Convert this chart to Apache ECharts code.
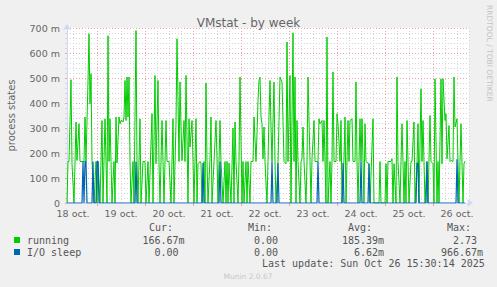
<!DOCTYPE html>
<html><head><meta charset="utf-8">
<script src="https://cdn.jsdelivr.net/npm/echarts@6.0.0/dist/echarts.min.js"></script>
<style>html,body{margin:0;padding:0;background:#f0f0f0;}#c{width:497px;height:287px;}</style>
</head><body><div id="c"></div>
<script>
// time unit: half-hour slots since 18 oct 00:00
const slotMin = 18, slotMax = 420;
const dayLabels = ['18 oct.','19 oct.','20 oct.','21 oct.','22 oct.','23 oct.','24 oct.','25 oct.','26 oct.'];
const yTicks = [0,100,200,300,400,500,600,700];

const runT = [18,19,20,22,23,25,27,28,30,31,33,35,36,37,39,40,41,42,43,45,47,48,49,51,53,54,56,57,58,59,60,61,62,63,65,66,67,68,70,71,72,73,74,75,76,77,78,79,80,81,82,84,85,87,88,89,91,92,94,96,97,99,100,103,104,106,107,109,110,111,113,114,115,117,118,120,122,124,125,127,128,130,131,132,133,135,136,137,139,140,141,143,144,145,147,148,149,151,152,153,155,156,157,158,159,161,162,163,165,167,168,169,171,172,174,176,177,178,179,180,182,184,185,186,187,189,190,191,193,194,195,197,198,199,201,202,204,205,207,208,209,210,211,212,213,214,215,216,218,219,220,221,222,223,225,226,227,229,230,231,233,234,235,237,238,239,241,242,244,245,246,247,248,249,251,252,253,254,255,257,258,259,261,262,263,265,266,268,269,270,271,273,274,275,277,278,279,281,282,283,284,285,287,288,289,291,292,293,295,296,297,299,300,301,303,304,306,307,308,309,311,312,313,315,316,317,319,320,321,324,325,330,331,332,336,337,338,339,342,343,344,345,347,348,349,351,352,353,355,356,357,358,359,360,362,363,365,366,368,369,370,372,373,374,376,378,379,381,382,384,385,386,388,389,390,392,393,394,396,397,398,400,401,402,404,405,406,408,409,410,411,412,414,415,416];
const runV = [0,166,166,493,157,0,324,170,317,166,166,166,344,166,490,677,397,517,170,0,166,0,166,0,330,0,337,166,0,669,166,337,166,0,166,0,344,160,344,317,330,330,324,344,490,330,504,344,504,166,0,166,0,690,166,0,337,0,166,166,0,166,0,357,0,510,157,490,160,0,330,166,0,330,166,166,0,337,0,317,657,166,484,304,170,330,166,510,0,337,224,330,166,0,337,0,157,166,160,0,166,0,480,166,0,177,344,0,166,330,177,0,330,166,0,166,0,166,0,160,0,300,0,324,166,0,166,504,0,166,0,166,0,166,0,166,166,344,166,277,410,490,504,344,317,177,304,166,0,166,350,490,304,166,484,166,0,160,330,504,484,330,166,157,644,166,510,0,681,166,504,0,330,166,0,166,177,304,166,0,166,504,166,0,177,330,166,166,166,337,317,330,166,330,0,664,0,166,0,166,524,166,166,357,317,166,330,0,177,344,0,330,166,330,337,166,166,484,166,0,337,166,337,0,317,166,160,157,0,337,0,0,166,0,0,157,0,166,166,177,0,157,0,504,166,0,166,317,0,166,0,330,166,0,166,166,324,0,157,317,0,457,166,330,0,166,0,350,166,157,0,497,0,166,0,497,157,497,330,357,177,310,166,170,166,504,304,337,166,0,166,317,0,157,167];

const ioT = [18,33,34,35,36,37,38,43,44,45,47,48,49,50,86,87,88,153,154,155,170,171,172,222,223,224,228,229,230,268,269,270,293,294,295,311,312,313,319,320,321,367,368,369,370,377,378,379,407,408,409,416];
const ioV = [0,0,166,0,166,166,0,0,166,0,0,166,166,0,0,166,0,0,160,0,0,166,0,0,166,0,0,160,0,0,166,0,0,160,0,0,166,0,0,157,0,0,160,160,0,0,166,0,0,175,0,0];

const legendNames = ['running','I/O sleep'];
const legendColors = ['#00CC00','#0066B3'];
const colHeads = ['Cur:','Min:','Avg:','Max:'];
const curVals = ['166.67m','0.00'];
const minVals = ['0.00','0.00'];
const avgVals = ['185.39m','6.62m'];
const maxVals = ['2.73','966.67m'];
const lastUpdate = 'Last update: Sun Oct 26 15:30:14 2025';
const footer = 'Munin 2.0.67';
const sideText = 'RRDTOOL / TOBI OETIKER';

const slots = [];
for (let s = slotMin; s <= slotMax; s++) slots.push(String(s));

const MAJ = '#e9a3a3', MIN = '#d6d6d6', AX = '#CFD6F8', FONT = '#666666';
const mono = '10px "DejaVu Sans Mono"';
const cw = 6.02;

const graphics = [];
graphics.push({type:'text', x:11, y:115.5, rotation:Math.PI/2,
  style:{text:'process states', font:'10px "DejaVu Sans"', fill:FONT, align:'center', verticalAlign:'middle'}});
graphics.push({type:'text', x:489, y:5, rotation:-Math.PI/2,
  style:{text:sideText, font:'7.5px "DejaVu Sans"', fill:'#c4c4c4', align:'left', verticalAlign:'middle'}});
const headX = [149,248,348,447];
colHeads.forEach((h,i)=>graphics.push({type:'text', x:headX[i], y:227,
  style:{text:h, font:mono, fill:'#555', align:'left', verticalAlign:'middle'}}));
const numRight = [178.5,278,378,477];
const cols = [curVals,minVals,avgVals,maxVals];
legendNames.forEach((n,r)=>{
  const y = 240 + r*12;
  graphics.push({type:'rect', shape:{x:14, y:y-3, width:6, height:6}, style:{fill:legendColors[r]}});
  graphics.push({type:'text', x:27, y:y, style:{text:n, font:mono, fill:'#555', align:'left', verticalAlign:'middle'}});
  cols.forEach((c,ci)=>{
    const s = c[r];
    const numLen = s.replace(/m$/,'').length;
    graphics.push({type:'text', x:numRight[ci]-numLen*cw, y:y,
      style:{text:s, font:mono, fill:'#555', align:'left', verticalAlign:'middle'}});
  });
});
graphics.push({type:'text', x:262, y:263, style:{text:lastUpdate, font:mono, fill:'#555', align:'left', verticalAlign:'middle'}});
graphics.push({type:'text', x:248, y:276, style:{text:footer, font:'7.5px "DejaVu Sans"', fill:'#c8c8c8', align:'center', verticalAlign:'middle'}});

const chart = echarts.init(document.getElementById('c'), null, {renderer:'svg'});
chart.setOption({
  backgroundColor:'#f0f0f0',
  animation:false,
  title:{text:'VMstat - by week', left:'center', top:12,
    textStyle:{fontFamily:'DejaVu Sans', fontSize:12, fontWeight:'normal', color:FONT}},
  grid:{left:67, right:28, top:28, bottom:84, show:true, backgroundColor:'#ffffff', borderWidth:0},
  xAxis:[
    {type:'value', min:slotMin, max:slotMax, show:false},
    {type:'category', data:slots, boundaryGap:false, position:'bottom',
     axisLine:{show:true, lineStyle:{color:AX, width:1}, symbol:['none','arrow'], symbolSize:[6,6], symbolOffset:[0,4]},
     axisTick:{show:true, length:3, interval:(i,v)=>Number(v)%48===0, lineStyle:{color:MAJ}},
     axisLabel:{show:true, interval:(i,v)=>Number(v)%48===24, formatter:(v)=>dayLabels[(Number(v)-24)/48],
       color:FONT, fontSize:9.5, fontFamily:'DejaVu Sans', margin:5},
     splitLine:{show:true, interval:(i,v)=>Number(v)%12===0 && Number(v)%48!==0, lineStyle:{color:MIN, type:[1,2], width:1}}},
    {type:'category', data:slots, boundaryGap:false, position:'top',
     axisLine:{show:false}, axisTick:{show:false}, axisLabel:{show:false},
     splitLine:{show:true, interval:(i,v)=>Number(v)%48===0, lineStyle:{color:MAJ, type:[1,2], width:1}}}
  ],
  yAxis:{type:'value', min:yTicks[0], max:yTicks[yTicks.length-1], interval:100,
    axisLine:{show:true, lineStyle:{color:AX, width:1}, symbol:['none','arrow'], symbolSize:[6,6], symbolOffset:[0,4]},
    axisTick:{show:true, length:2, lineStyle:{color:MAJ}},
    minorTick:{show:true, splitNumber:5, length:2, lineStyle:{color:MIN}},
    axisLabel:{color:FONT, fontSize:9.5, fontFamily:'DejaVu Sans', margin:7,
      formatter:(v)=> v===0 ? '0' : v+' m'},
    splitLine:{show:true, lineStyle:{color:MAJ, type:[1,2], width:1}},
    minorSplitLine:{show:true, lineStyle:{color:MIN, type:[1,2], width:1}}},
  series:[
    {type:'line', name:'running', xAxisIndex:0, symbol:'none',
     data:runT.map((t,i)=>[t, runV[i]]),
     lineStyle:{color:legendColors[0], width:1}, itemStyle:{color:legendColors[0]}},
    {type:'line', name:'I/O sleep', xAxisIndex:0, symbol:'none',
     data:ioT.map((t,i)=>[t, ioV[i]]),
     lineStyle:{color:legendColors[1], width:1.2}, itemStyle:{color:legendColors[1]}}
  ],
  graphic:graphics
});
</script></body></html>
